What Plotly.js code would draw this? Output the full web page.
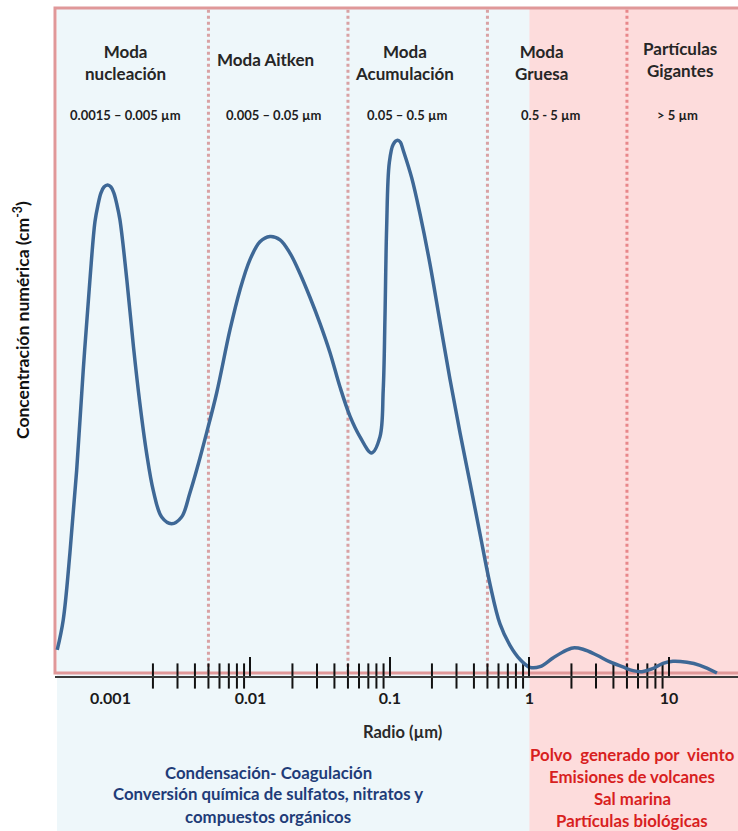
<!DOCTYPE html>
<html>
<head>
<meta charset="utf-8">
<script src="https://cdn.plot.ly/plotly-3.0.1.min.js"></script>
<style>html,body{margin:0;padding:0;background:#fff;}#chart{width:738px;height:831px;}</style>
</head>
<body>
<div id="chart"></div>
<script>
// Particle radius (µm) and number concentration (arbitrary units, cm^-3)
const radius = [0.000412,0.000455,0.000508,0.000568,0.000633,0.000707,0.000768,0.000807,0.000847,0.000891,
  0.000947,0.001000,0.00105,0.00110,0.00116,0.00130,0.00145,0.00161,0.00180,0.00201,
  0.00231,0.00272,0.00321,0.00368,0.00411,0.00485,0.00573,0.00713,0.00841,0.00991,
  0.0117,0.0138,0.0163,0.0192,0.0226,0.0267,0.0315,0.0372,0.0438,0.0517,
  0.0610,0.0739,0.0848,0.0895,0.0921,0.0947,0.0989,0.1056,0.1135,0.1189,
  0.1245,0.1431,0.1641,0.1935,0.228,0.269,0.318,0.375,0.442,0.521,
  0.615,0.725,0.855,1.008,1.189,1.474,1.738,2.05,2.42,3.05,
  3.78,4.68,5.52,6.40,7.55,9.06,10.68,13.46,16.68,22.08];
const concentration = [3.9,8.4,18.4,30.8,45.8,59.3,68.0,70.5,72.3,73.2,
  73.5,73.2,72.3,70.7,68.3,59.3,49.3,40.9,33.4,27.8,
  23.8,22.8,23.8,27.4,30.8,36.4,42.4,51.8,57.8,62.3,
  65.0,65.8,65.3,63.3,60.3,56.7,52.8,48.4,43.3,38.9,
  35.8,33.4,35.8,42.8,53.6,67.1,76.8,79.6,80.2,79.9,
  78.7,74.6,69.2,61.7,53.1,44.5,36.4,28.9,21.3,13.8,
  7.8,4.6,2.5,1.3,1.4,2.7,3.6,4.2,4.0,3.1,
  2.1,1.35,0.8,0.65,1.05,1.9,2.2,2.05,1.6,0.45];

const majorTickVals = [0.01, 0.1, 1, 10];
const majorTickText = ['0.01', '0.1', '1', '10'];
const firstTickText = '0.001';
const firstTickVal = 0.001;
const minorTickVals = [0.002,0.003,0.004,0.005,0.006,0.007,0.008,0.009,
  0.02,0.03,0.04,0.05,0.06,0.07,0.08,0.09,
  0.2,0.3,0.4,0.5,0.6,0.7,0.8,0.9,
  2,3,4,5,6,7,8,9];
const modeBounds = [0.005, 0.05, 0.5, 5];
const coarseStart = 1;

const modeNames = ['Moda<br>nucleación', 'Moda Aitken', 'Moda<br>Acumulación', 'Moda<br>Gruesa', 'Partículas<br>Gigantes'];
const modeRanges = ['0.0015 – 0.005 µm', '0.005 – 0.05 µm', '0.05 – 0.5 µm', '0.5 - 5 µm', '> 5 µm'];
const fineSources = ['Condensación- Coagulación', 'Conversión química de sulfatos, nitratos y', 'compuestos orgánicos'];
const coarseSources = ['Polvo  generado por  viento', 'Emisiones de volcanes', 'Sal marina', 'Partículas biológicas'];

const FONT = 'Lato, "Open Sans", sans-serif';
const W = 738, H = 831, ML = 55, MT = 8, MB = 155;
const PW = W - ML, PH = H - MT - MB;
const px = x => (x - ML) / PW;          // pixel -> paper x
const py = y => (H - MB - y) / PH;      // pixel -> paper y

const traces = [
  {
    x: minorTickVals, y: minorTickVals.map(() => 0),
    type: 'scatter', mode: 'markers', cliponaxis: false, hoverinfo: 'skip', showlegend: false,
    marker: {symbol: 'line-ns', size: 18, color: '#111', line: {color: '#111', width: 2}}
  },
  {
    x: radius, y: concentration,
    type: 'scatter', mode: 'lines', cliponaxis: false, showlegend: false,
    line: {color: '#3e6896', width: 3.5, shape: 'spline', smoothing: 1.0}
  }
];

const shapes = [
  {type: 'rect', xref: 'paper', yref: 'paper', x0: 0.003, x1: 1, y0: -MB / PH, y1: 1,
   fillcolor: '#eef7fa', line: {width: 0}, layer: 'below'},
  {type: 'rect', xref: 'x', yref: 'paper', x0: coarseStart, x1: 1000, y0: -MB / PH, y1: 1,
   fillcolor: '#fddcdc', line: {width: 0}, layer: 'below'},
  {type: 'rect', xref: 'paper', yref: 'paper', x0: 0, x1: 1.01, y0: 3 / PH, y1: 1,
   fillcolor: 'rgba(0,0,0,0)', line: {color: '#e09899', width: 3}, layer: 'below'}
];
modeBounds.forEach((b, i) => {
  shapes.push({type: 'line', xref: 'x', yref: 'paper', x0: b, x1: b, y0: 0.005, y1: 1,
    line: {color: b >= coarseStart ? '#e8878a' : '#d9a1a3', width: 3, dash: 'dot'}, layer: 'below'});
});

const annotations = [];
const headX = [125, 265, 404, 541, 680];
const headY = [62, 60, 62, 62, 60];
const rangeX = [125, 274, 407, 551, 677];
modeNames.forEach((t, i) => {
  annotations.push({text: '<b>' + t + '</b>', xref: 'paper', yref: 'paper', x: px(headX[i]), y: py(headY[i]),
    xanchor: 'center', yanchor: 'middle', showarrow: false, font: {family: FONT, size: 17, color: '#262626'}});
  annotations.push({text: '<b>' + modeRanges[i] + '</b>', xref: 'paper', yref: 'paper', x: px(rangeX[i]), y: py(115),
    xanchor: 'center', yanchor: 'middle', showarrow: false, font: {family: FONT, size: 13, color: '#1e1e1e'}});
});
fineSources.forEach((t, i) => {
  annotations.push({text: '<b>' + t + '</b>', xref: 'paper', yref: 'paper', x: px(268), y: py(772 + 22 * i),
    xanchor: 'center', yanchor: 'middle', showarrow: false, font: {family: FONT, size: 16.8, color: '#1f3c78'}});
});
coarseSources.forEach((t, i) => {
  annotations.push({text: '<b>' + t + '</b>', xref: 'paper', yref: 'paper', x: px(632), y: py(754 + 22 * i),
    xanchor: 'center', yanchor: 'middle', showarrow: false, font: {family: FONT, size: 16.8, color: '#d81f1f'}});
});
annotations.push({text: '<b>' + firstTickText + '</b>', xref: 'x', yref: 'paper', x: Math.log10(firstTickVal), y: py(697),
  xanchor: 'center', yanchor: 'middle', showarrow: false, font: {family: FONT, size: 16, color: '#1a1a1a'}});
annotations.push({text: '<b>Radio (µm)</b>', xref: 'paper', yref: 'paper', x: px(402), y: py(732),
  xanchor: 'center', yanchor: 'middle', showarrow: false, font: {family: FONT, size: 16.5, color: '#2a2a2a'}});
annotations.push({text: '<b>Concentración numérica (cm<sup>-3</sup>)</b>', xref: 'paper', yref: 'paper', x: px(21), y: py(320),
  xanchor: 'center', yanchor: 'middle', textangle: -90, showarrow: false, font: {family: FONT, size: 17.5, color: '#111'}});

const layout = {
  width: W, height: H,
  margin: {l: ML, r: 0, t: MT, b: MB, pad: 0},
  paper_bgcolor: '#ffffff', plot_bgcolor: 'rgba(0,0,0,0)',
  showlegend: false,
  xaxis: {
    type: 'log', range: [-3.401, 1.495], showgrid: false, zeroline: false,
    showline: true, linecolor: '#3a3a3a', linewidth: 2,
    tickmode: 'array', tickvals: majorTickVals, ticktext: majorTickText.map(t => '<b>' + t + '</b>'),
    ticks: 'inside', ticklen: 19, tickwidth: 2, tickcolor: '#111',
    ticklabelstandoff: 7,
    tickfont: {family: FONT, size: 16, color: '#1a1a1a'}
  },
  yaxis: {range: [0, 100], visible: false, showgrid: false, zeroline: false},
  shapes: shapes,
  annotations: annotations
};

Plotly.newPlot('chart', traces, layout, {displayModeBar: false, staticPlot: true});
</script>
</body>
</html>
